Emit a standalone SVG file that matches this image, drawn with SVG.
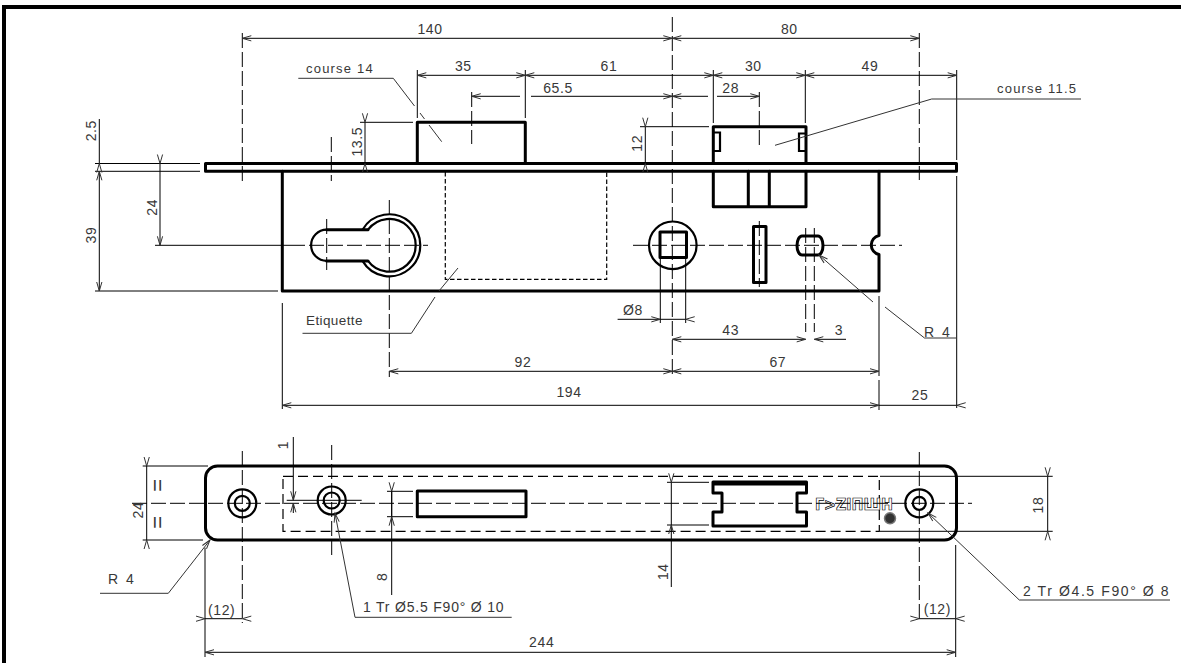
<svg xmlns="http://www.w3.org/2000/svg" width="1181" height="663" viewBox="0 0 1181 663">
<style>
text{font-family:"Liberation Sans",Arial,sans-serif;font-size:14px;fill:#383838;text-anchor:middle;letter-spacing:.6px}
.s{text-anchor:start}
line,path,rect,circle,polyline{fill:none;stroke:#000}
.th{stroke-width:3;stroke-linejoin:round;stroke-linecap:round}
.md{stroke-width:2.2}
.t{stroke-width:1}
.c{stroke-width:1;stroke-dasharray:15 4}
.h{stroke-width:1.2;stroke-dasharray:10 5}
.f{stroke-width:1.2;stroke-dasharray:4.5 2.5}
.l{stroke-width:1;stroke:#333}
.d{stroke-width:1;marker-start:url(#a);marker-end:url(#a)}
.e{stroke-width:1;marker-end:url(#a)}
.b{stroke-width:1;marker-start:url(#a)}
.o{stroke-width:1;marker-start:url(#i);marker-end:url(#i)}
.os{stroke-width:1;marker-start:url(#i)}
.oe{stroke-width:1;marker-end:url(#i)}
.hd{stroke-width:1;stroke:#333}
</style>
<defs>
<marker id="a" markerUnits="userSpaceOnUse" markerWidth="10" markerHeight="6" overflow="visible" orient="auto-start-reverse"><path class="hd" d="M-9,-2.6 L0,0 L-9,2.6"/></marker>
<marker id="i" markerUnits="userSpaceOnUse" markerWidth="10" markerHeight="6" overflow="visible" orient="auto-start-reverse"><path class="hd" d="M9,-2.6 L0,0 L9,2.6"/></marker>
</defs>
<g id="frame"><rect x="2" y="5" width="1179" height="4" style="fill:#000;stroke:none"/><rect x="2" y="5" width="4" height="658" style="fill:#000;stroke:none"/></g>

<g id="front-view">
<rect class="th" x="205.5" y="163.5" width="751" height="7.8"/>
<path class="th" d="M282.3,171.3 V291 H879 V254.5 A9.7,9.7 0 0 1 879,235.5 V171.3"/>
<path class="th" d="M417.3,163.5 V122.3 H525.3 V163.5"/>
<path class="th" d="M713.3,163.5 V126.7 H806 V163.5"/>
<path class="th" d="M713.3,171.3 V206.7 H806 V171.3 M748.3,171.3 V206.7 M769.3,171.3 V206.7"/>
<path class="md" d="M714,132.5 H720 V151 H714 M805,133.5 H799 V151 H805"/>
<path class="md" d="M362.5,229.7 A31,31 0 1 1 362.5,260.9 M368,229.7 A26.4,26.4 0 1 1 368,260.9"/>
<path class="th" d="M326.7,229.7 H368 M326.7,260.9 H368"/>
<path class="md" d="M326.7,229.7 A15.6,15.6 0 0 0 326.7,260.9"/>
<path class="f" d="M445.3,172 V279.3 H606.7 V172"/>
<circle class="md" cx="672.8" cy="245.3" r="23.8"/>
<rect class="th" x="660" y="232" width="26.5" height="25.5"/>
<rect class="th" x="753.5" y="226.5" width="12.5" height="56"/>
<path class="th" d="M802,236 H818 A5,9.5 0 0 1 818,255 H802 A5,9.5 0 0 1 802,236 Z"/>
</g>

<g id="plan-view">
<rect class="th" x="205.5" y="466" width="751" height="74" rx="12"/>
<path class="h" d="M283,476.3 H879.3 V531.3 H283 Z"/>
<circle class="md" cx="242.3" cy="503.3" r="14"/><circle class="md" cx="242.3" cy="503.3" r="7.5"/>
<circle class="md" cx="331.7" cy="500.5" r="14"/><circle class="md" cx="331.7" cy="500.5" r="8"/>
<circle class="md" cx="919.3" cy="503.3" r="14"/><circle class="md" cx="919.3" cy="503.3" r="6.5"/>
<rect class="th" x="417.3" y="491" width="108.7" height="25.7"/>
<path class="th" d="M713,482 H806.5 V493 H797 V512 H806.5 V526 H713 V512 H722 V493 H713 Z M713,484 H806.5"/>
</g>

<g id="logo">
<text x="854" y="510" textLength="78" lengthAdjust="spacingAndGlyphs" style="font-size:16px;font-weight:bold;font-family:'DejaVu Sans',sans-serif;fill:#fff;stroke:#000;stroke-width:.7;letter-spacing:0">Γ&gt;ZIПШH</text>
<circle cx="890" cy="518.3" r="5.5" style="fill:#333;stroke:#777;stroke-width:1.5"/>
</g>

<g id="connectors">
<!-- centre lines -->
<line class="c" x1="672.3" y1="17" x2="672.3" y2="377"/>
<line class="c" x1="242.3" y1="33" x2="242.3" y2="181"/>
<line class="c" x1="331.3" y1="137" x2="331.3" y2="181"/>
<line class="c" x1="471.7" y1="92" x2="471.7" y2="144"/>
<line class="c" x1="759.3" y1="92" x2="759.3" y2="148"/>
<line class="c" x1="919.3" y1="33" x2="919.3" y2="180"/>
<line class="c" x1="389.3" y1="200" x2="389.3" y2="377"/>
<line class="c" x1="326.7" y1="219" x2="326.7" y2="270"/>
<line class="t" x1="155" y1="245.3" x2="290" y2="245.3"/>
<line class="c" x1="290" y1="245.3" x2="428" y2="245.3"/>
<line class="c" x1="633" y1="245.3" x2="902" y2="245.3"/>
<line class="c" x1="759.3" y1="221" x2="759.3" y2="287"/>
<line class="c" x1="805.7" y1="228" x2="805.7" y2="332"/>
<line class="c" x1="814.3" y1="228" x2="814.3" y2="332"/>
<line class="c" x1="132" y1="503.3" x2="972" y2="503.3"/>
<line class="c" x1="242.3" y1="451" x2="242.3" y2="623"/>
<line class="c" x1="331.7" y1="445" x2="331.7" y2="557"/>
<line class="c" x1="919.3" y1="452" x2="919.3" y2="622"/>

<!-- extension lines -->
<line class="t" x1="417.3" y1="70" x2="417.3" y2="118"/>
<line class="t" x1="525.3" y1="70" x2="525.3" y2="118"/>
<line class="t" x1="713.3" y1="70" x2="713.3" y2="123"/>
<line class="t" x1="805.3" y1="70" x2="805.3" y2="123"/>
<line class="t" x1="956.7" y1="70" x2="956.7" y2="160"/>
<line class="t" x1="956.7" y1="176" x2="956.7" y2="408"/>
<line class="t" x1="95" y1="163.5" x2="200" y2="163.5"/>
<line class="t" x1="95" y1="171.3" x2="200" y2="171.3"/>
<line class="t" x1="95" y1="291" x2="278" y2="291"/>
<line class="t" x1="360" y1="122.3" x2="413" y2="122.3"/>
<line class="t" x1="640" y1="126.7" x2="709" y2="126.7"/>
<line class="t" x1="660.3" y1="259" x2="660.3" y2="323"/>
<line class="t" x1="685.7" y1="259" x2="685.7" y2="323"/>
<line class="t" x1="282.3" y1="303" x2="282.3" y2="409"/>
<line class="t" x1="879" y1="296" x2="879" y2="376"/>
<line class="t" x1="879" y1="380" x2="879" y2="410"/>
<line class="t" x1="142.7" y1="466" x2="208" y2="466"/>
<line class="t" x1="142.7" y1="540" x2="203" y2="540"/>
<line class="t" x1="286.7" y1="500.3" x2="361.7" y2="500.3"/>
<line class="t" x1="387" y1="491.3" x2="413" y2="491.3"/>
<line class="t" x1="387" y1="516.7" x2="413" y2="516.7"/>
<line class="t" x1="667" y1="482.3" x2="709" y2="482.3"/>
<line class="t" x1="667" y1="525" x2="709" y2="525"/>
<line class="t" x1="880" y1="476.3" x2="1052.7" y2="476.3"/>
<line class="t" x1="880" y1="531.3" x2="1052.7" y2="531.3"/>
<line class="t" x1="205" y1="547.7" x2="205" y2="657"/>
<line class="t" x1="955.7" y1="545" x2="955.7" y2="657"/>

<!-- dimensions -->
<line class="d" x1="242.3" y1="38.3" x2="672.3" y2="38.3"/>
<line class="d" x1="672.3" y1="38.3" x2="919.3" y2="38.3"/>
<line class="d" x1="417.3" y1="75.3" x2="525.3" y2="75.3"/>
<line class="d" x1="525.3" y1="75.3" x2="713.3" y2="75.3"/>
<line class="d" x1="713.3" y1="75.3" x2="805.3" y2="75.3"/>
<line class="d" x1="805.3" y1="75.3" x2="956.7" y2="75.3"/>
<line class="b" x1="471.7" y1="96.3" x2="520" y2="96.3"/>
<line class="e" x1="531" y1="96.3" x2="672.3" y2="96.3"/>
<line class="b" x1="672.3" y1="96.3" x2="708" y2="96.3"/>
<line class="e" x1="717" y1="96.3" x2="759.3" y2="96.3"/>
<line class="o" x1="365" y1="122.3" x2="365" y2="163.5"/>
<line class="o" x1="645.3" y1="126.7" x2="645.3" y2="163.5"/>
<line class="oe" x1="99.3" y1="119" x2="99.3" y2="163.5"/>
<line class="d" x1="99.3" y1="171.3" x2="99.3" y2="291"/>
<line class="os" x1="160" y1="163.5" x2="160" y2="171.3"/>
<line class="e" x1="160" y1="171.3" x2="160" y2="245.3"/>
<line class="e" x1="617.6" y1="319.3" x2="660.3" y2="319.3"/>
<line class="oe" x1="660.3" y1="319.3" x2="685.7" y2="319.3"/>
<line class="d" x1="672.3" y1="339.3" x2="805.7" y2="339.3"/>
<line class="b" x1="814.3" y1="339.3" x2="846" y2="339.3"/>
<line class="d" x1="389.3" y1="371.3" x2="672.3" y2="371.3"/>
<line class="d" x1="672.3" y1="371.3" x2="879" y2="371.3"/>
<line class="d" x1="282.3" y1="405.3" x2="879" y2="405.3"/>
<line class="oe" x1="879" y1="405.3" x2="956.7" y2="405.3"/>
<line class="o" x1="146.7" y1="466" x2="146.7" y2="540"/>
<line class="e" x1="293.3" y1="437" x2="293.3" y2="500.3"/>
<line class="b" x1="293.3" y1="503.3" x2="293.3" y2="513"/>
<line class="oe" x1="391.7" y1="516.7" x2="391.7" y2="491.3"/>
<line class="t" x1="391.7" y1="491.3" x2="391.7" y2="516.7"/>
<line class="b" x1="391.7" y1="516.7" x2="391.7" y2="595"/>
<line class="os" x1="671.3" y1="482.3" x2="671.3" y2="525"/>
<line class="b" x1="671.3" y1="525" x2="671.3" y2="587"/>
<line class="o" x1="1047.7" y1="476.3" x2="1047.7" y2="531.3"/>
<line class="o" x1="205" y1="618.7" x2="242.3" y2="618.7"/>
<line class="o" x1="919.3" y1="618.7" x2="955.7" y2="618.7"/>
<line class="d" x1="205" y1="652.3" x2="955.7" y2="652.3"/>

<!-- leaders -->
<polyline class="l" points="298.3,78.3 393.3,78.3 414.5,106"/>
<line class="l" x1="420" y1="113" x2="424.5" y2="119"/>
<line class="l" x1="429" y1="125" x2="441.7" y2="141.7"/>
<polyline class="l" points="775,145.3 931.7,99 1081,99"/>
<polyline class="l" points="302.5,333.3 411.4,333.3 435,297"/>
<line class="l" x1="439" y1="291" x2="458" y2="268"/>
<polyline class="b l" points="819,255 873,302"/>
<polyline class="l" points="885,307 924.5,338 956,338"/>
<polyline class="b l" points="210,540 168.3,593.3 100,593.3"/>
<polyline class="b l" points="335,513.3 355,617.3 511.7,617.3"/>
<polyline class="b l" points="928,513 1019.3,600 1170,600"/>
</g>

<g id="labels">
<text x="430" y="34">140</text>
<text x="789.3" y="34">80</text>
<text x="463.3" y="71">35</text>
<text x="609" y="71">61</text>
<text x="753.3" y="71">30</text>
<text x="870" y="71">49</text>
<text x="558" y="92.7">65.5</text>
<text x="730.7" y="92.7">28</text>
<text class="s" x="306" y="73" style="font-size:13px;letter-spacing:1.2px">course 14</text>
<text class="s" x="997" y="93" style="font-size:13px;letter-spacing:1.2px">course 11.5</text>
<text class="s" x="306" y="325" style="font-size:13.5px;letter-spacing:.4px">Etiquette</text>
<text transform="translate(95.7,130.7) rotate(-90)">2.5</text>
<text transform="translate(95.7,235) rotate(-90)">39</text>
<text transform="translate(156.7,207.3) rotate(-90)">24</text>
<text transform="translate(361.5,141.7) rotate(-90)">13.5</text>
<text transform="translate(641.7,143.3) rotate(-90)">12</text>
<text x="633" y="315">Ø8</text>
<text x="730.7" y="335">43</text>
<text x="839" y="335">3</text>
<text x="523" y="367">92</text>
<text x="777.8" y="367">67</text>
<text x="569" y="397">194</text>
<text x="920" y="400">25</text>
<text class="s" x="924" y="337" style="letter-spacing:2px">R 4</text>
<text transform="translate(143,510) rotate(-90)">24</text>
<text transform="translate(165,485) rotate(-90)" style="font-size:22px">=</text>
<text transform="translate(165,522) rotate(-90)" style="font-size:22px">=</text>
<text transform="translate(288,445) rotate(-90)">1</text>
<text transform="translate(386.7,576.7) rotate(-90)">8</text>
<text transform="translate(667.7,571.7) rotate(-90)">14</text>
<text transform="translate(1043,505) rotate(-90)">18</text>
<text class="s" x="108" y="584" style="letter-spacing:2px">R 4</text>
<text x="221.7" y="615">(12)</text>
<text x="937.3" y="614">(12)</text>
<text x="541.7" y="647">244</text>
<text class="s" x="363" y="612" style="letter-spacing:.8px">1 Tr Ø5.5 F90° Ø 10</text>
<text class="s" x="1023" y="596" style="letter-spacing:1.6px">2 Tr Ø4.5 F90° Ø 8</text>
</g>
</svg>
